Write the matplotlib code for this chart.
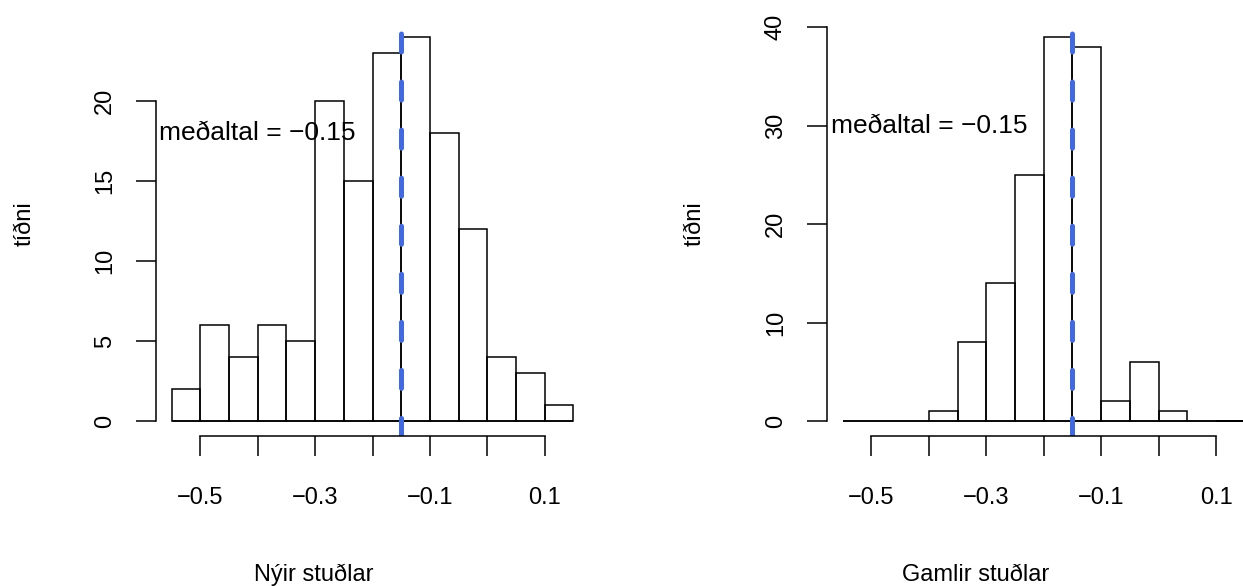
import numpy as np
import matplotlib
matplotlib.use("Agg")
import matplotlib.pyplot as plt

plt.rcParams['font.family'] = ['Liberation Sans', 'DejaVu Sans']
plt.rcParams['lines.scale_dashes'] = False

# histogram data (bin edges shared by both panels)
edges = np.round(np.arange(-0.55, 0.151, 0.05), 2)
new_counts = [2, 6, 4, 6, 5, 20, 15, 23, 24, 18, 12, 4, 3, 1]
old_counts = [0, 0, 0, 1, 8, 14, 25, 39, 38, 2, 6, 1, 0, 0]
mean_new = -0.15
mean_old = -0.15
xticks = [-0.5, -0.4, -0.3, -0.2, -0.1, 0.0, 0.1]
xticklabels = ["\u22120.5", "", "\u22120.3", "", "\u22120.1", "", "0.1"]
yticks_new = [0, 5, 10, 15, 20]
yticks_old = [0, 10, 20, 30, 40]

W, H = 1243, 586
fig = plt.figure(figsize=(W / 100, H / 100), dpi=100)


def px_axes(x0, x1, top, bottom):
    return fig.add_axes([x0 / W, 1 - bottom / H, (x1 - x0) / W, (bottom - top) / H])


def draw_hist(ax, counts, mean, yticks, ymax, label_y):
    ax.bar(edges[:-1], counts, width=0.05, align='edge', fill=False,
           edgecolor='black', linewidth=1.1)
    # empty bins still show their bottom edge
    ax.hlines(0, edges[0], edges[-1], color='black', linewidth=1.1)
    x0, x1 = edges[0], edges[-1]
    pad = 0.04 * (x1 - x0)
    ax.set_xlim(x0 - pad, x1 + pad)
    ax.set_ylim(-0.04 * ymax, 1.04 * ymax)
    lo, hi = ax.get_ylim()
    # dashed mean line, drawn bottom-up like R's abline
    ax.plot([mean, mean], [lo, hi], color='royalblue', linewidth=3.6,
            linestyle=(0, (13, 21.6)), dash_capstyle='round')
    ax.text(-0.4, label_y, "meðaltal = \u22120.15", ha='center', va='center',
            fontsize=19)

    for s in ['top', 'right']:
        ax.spines[s].set_visible(False)
    ax.spines['left'].set_bounds(yticks[0], yticks[-1])
    ax.spines['bottom'].set_bounds(xticks[0], xticks[-1])
    for s in ['left', 'bottom']:
        ax.spines[s].set_linewidth(1.1)
    ax.set_xticks(xticks)
    ax.set_xticklabels(xticklabels)
    ax.set_yticks(yticks)
    ax.set_yticklabels([str(v) for v in yticks], rotation=90, va='center')
    ax.tick_params(length=14.5, width=1.1, labelsize=17)
    ax.tick_params(axis='x', pad=22)
    ax.tick_params(axis='y', pad=14)
    ax.patch.set_visible(False)


ax1 = px_axes(155.5, 589.5, 21.5, 436.4)
draw_hist(ax1, new_counts, mean_new, yticks_new, 24, 18)

ax2 = px_axes(826.5, 1261.0, 21.5, 436.4)
draw_hist(ax2, old_counts, mean_old, yticks_old, 39, 30)

fig.text(314 / W, 1 - 581 / H, "Nýir stuðlar", ha='center', va='baseline', fontsize=17)
fig.text(976 / W, 1 - 581 / H, "Gamlir stuðlar", ha='center', va='baseline', fontsize=17)
fig.text(25 / W, 1 - 224 / H, "tíðni", ha='center', va='center', rotation=90, fontsize=17)
fig.text(695 / W, 1 - 224 / H, "tíðni", ha='center', va='center', rotation=90, fontsize=17)

fig.savefig("out.png", dpi=100)
